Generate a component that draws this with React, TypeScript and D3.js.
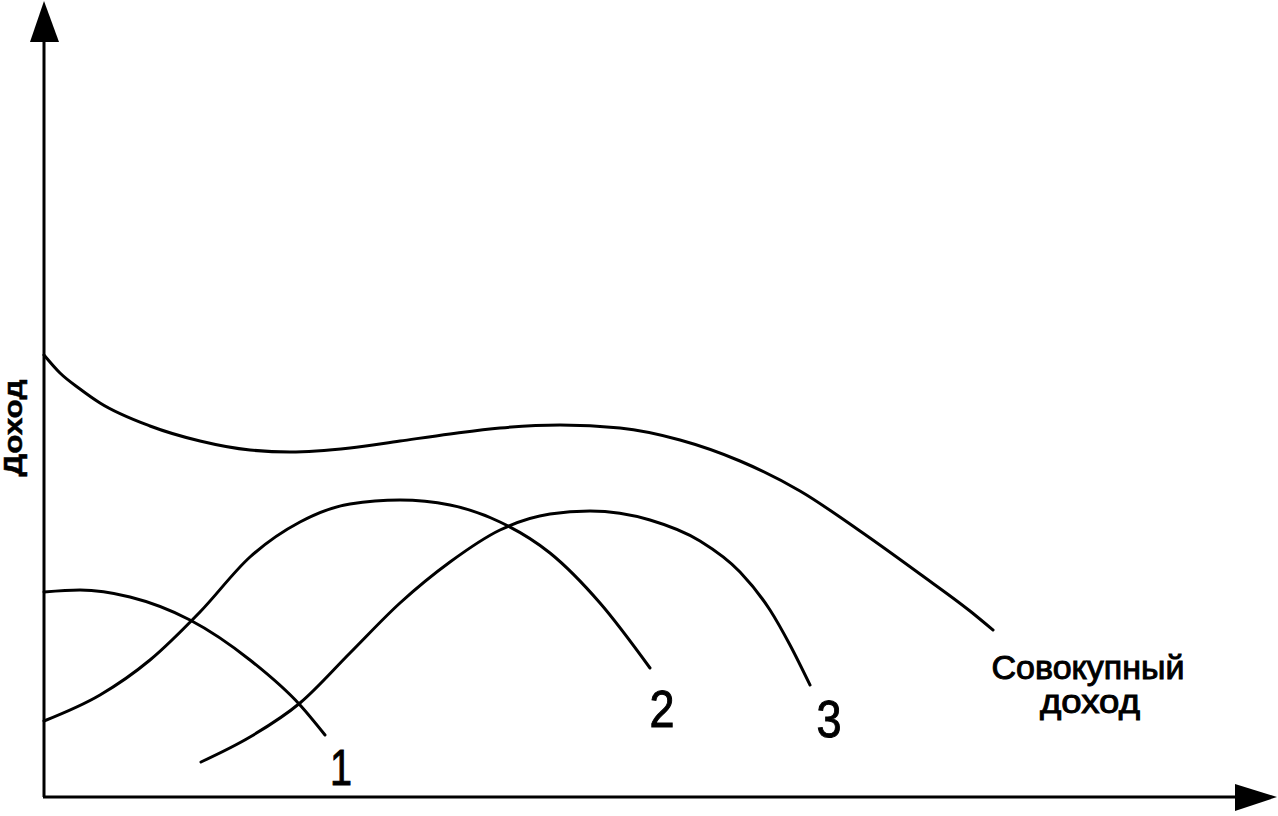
import React from "react";
import * as d3 from "d3";

// Data (x: position along horizontal axis, y: income level)
type P = [number, number];
const curve1: P[] = [[0,205],[36,207],[86,200],[146,177],[206,137],[256,92],[281,62]];
const curve2: P[] = [[0,76],[56,102],[106,137],[156,185],[206,240],[256,275],[306,293],[356,297],[406,292],[456,275],[506,244],[556,194],[606,129]];
const curve3: P[] = [[157,35],[206,60],[256,94],[306,144],[356,194],[406,235],[456,267],[506,283],[546,286],[606,277],[656,256],[696,225],[726,187],[746,152],[766,112]];
const totalCurve: P[] = [[0,442],[16,424],[36,408],[56,394],[106,371],[156,356],[206,347],[246,345],[306,349],[356,356],[406,363],[456,369],[516,372],[576,369],[636,357],[696,336],[756,306],[816,266],[876,223],[926,186],[949,167]];

const seriesLabels = ["1", "2", "3"];
const totalLabel = ["Совокупный", "доход"];
const yAxisLabel = "Доход";

const W = 1278, H = 816;

export default function App() {
  const x = d3.scaleLinear().domain([0, 1232]).range([44, 1276]);
  const y = d3.scaleLinear().domain([0, 797]).range([797, 0]);
  const line = d3.line<P>().x(d => x(d[0])).y(d => y(d[1])).curve(d3.curveMonotoneX);

  const font = "Arial, 'Liberation Sans', sans-serif";
  const curves = [curve1, curve2, curve3, totalCurve];

  return (
    <svg width={W} height={H} style={{ position: "absolute", left: 0, top: 0, background: "#fff" }}>
      <rect width={W} height={H} fill="#fff" />
      {/* axes */}
      <line x1={x(0)} y1={y(0)} x2={x(0)} y2={38} stroke="#000" strokeWidth={3} />
      <polygon points={`${x(0)},1 ${x(0) - 14},42 ${x(0) + 15},42`} fill="#000" />
      <line x1={x(0) - 1} y1={y(0)} x2={1240} y2={y(0)} stroke="#000" strokeWidth={3} />
      <polygon points={`1277,${y(0)} 1235,${y(0) - 13} 1235,${y(0) + 14}`} fill="#000" />

      {curves.map((c, i) => (
        <path key={i} d={line(c) || ""} fill="none" stroke="#000" strokeWidth={3} strokeLinecap="round" />
      ))}

      <g fontFamily={font} fill="#000" stroke="#000" strokeWidth={1}>
        <text x={341} y={785} fontSize={50} textAnchor="middle" textLength={22} lengthAdjust="spacingAndGlyphs">{seriesLabels[0]}</text>
        <text x={662} y={727} fontSize={52} textAnchor="middle" textLength={25} lengthAdjust="spacingAndGlyphs">{seriesLabels[1]}</text>
        <text x={829} y={737} fontSize={52} textAnchor="middle" textLength={25} lengthAdjust="spacingAndGlyphs">{seriesLabels[2]}</text>
        <text x={1088} y={679} fontSize={34} textAnchor="middle" textLength={193} lengthAdjust="spacingAndGlyphs">{totalLabel[0]}</text>
        <text x={1090} y={713} fontSize={33} textAnchor="middle" textLength={100} lengthAdjust="spacingAndGlyphs">{totalLabel[1]}</text>
        <text transform="translate(22,428) rotate(-90)" fontSize={25} fontWeight="bold" textAnchor="middle" strokeWidth={0.5} textLength={97} lengthAdjust="spacingAndGlyphs">{yAxisLabel}</text>
      </g>
    </svg>
  );
}
